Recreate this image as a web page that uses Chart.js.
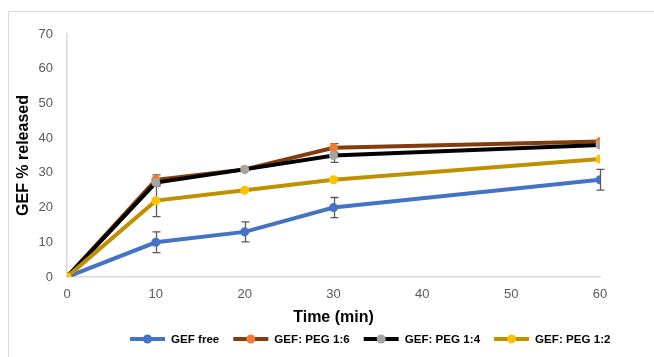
<!DOCTYPE html>
<html>
<head>
<meta charset="utf-8">
<script src="https://cdn.jsdelivr.net/npm/chart.js@4/dist/chart.umd.min.js"></script>
<style>
  html, body { margin: 0; padding: 0; background: #fff; }
  #wrap { width: 654px; height: 357px; }
</style>
</head>
<body>
<div id="wrap"><canvas id="releaseChart"></canvas></div>
<script>
// Release data (time in minutes, % released)
var times = [0, 10, 20, 30, 60];
var gefFree = [0, 10, 13, 20, 28];
var peg16 = [0, 28, 31, 37.2, 39];
var peg14 = [0, 27.2, 31, 35, 38];
var peg12 = [0, 22, 25, 28, 34];

// Standard deviations for the error bars
var gefFreeErr = [0, 3, 2.9, 2.9, 3];
var peg16Err = [0, 1.4, 0, 1.2, 0];
var peg14Err = [0, 1, 0, 2, 0];
var peg12Err = [0, 4.6, 0, 0, 0];

var seriesNames = ['GEF free', 'GEF: PEG 1:6', 'GEF: PEG 1:4', 'GEF: PEG 1:2'];
var lineColors = ['#4472C4', '#843C0C', '#000000', '#BF9000'];
var markerColors = ['#4472C4', '#ED7D31', '#A5A5A5', '#FFC000'];
var seriesValues = [gefFree, peg16, peg14, peg12];
var seriesErrors = [gefFreeErr, peg16Err, peg14Err, peg12Err];

function toPoints(values) {
    return values.map(function (v, i) { return { x: times[i], y: v }; });
}

var datasets = seriesValues.map(function (vals, i) {
    return {
        label: seriesNames[i],
        data: toPoints(vals),
        errors: seriesErrors[i],
        borderColor: lineColors[i],
        backgroundColor: markerColors[i],
        pointBackgroundColor: markerColors[i],
        pointBorderColor: markerColors[i],
        pointBorderWidth: 0,
        pointRadius: 4.5,
        borderWidth: 4,
        tension: 0,
        order: 4 - i
    };
});

// Light frame around the chart area
var framePlugin = {
    id: 'frame',
    beforeDraw: function (chart) {
        var c = chart.ctx;
        c.save();
        c.fillStyle = '#ffffff';
        c.fillRect(0, 0, chart.width, chart.height);
        c.strokeStyle = '#d9d9d9';
        c.lineWidth = 1;
        c.beginPath();
        c.moveTo(8.5, chart.height);
        c.lineTo(8.5, 11.5);
        c.lineTo(chart.width, 11.5);
        c.stroke();
        c.restore();
    }
};

// Vertical error bars with caps
var errorBarPlugin = {
    id: 'errorBars',
    beforeDatasetsDraw: function (chart) {
        var c = chart.ctx;
        var xs = chart.scales.x, ys = chart.scales.y;
        c.save();
        c.strokeStyle = '#595959';
        c.lineWidth = 1.3;
        chart.data.datasets.forEach(function (ds) {
            ds.data.forEach(function (p, j) {
                var e = ds.errors[j];
                if (!e) return;
                var px = Math.round(xs.getPixelForValue(p.x)) + 0.5;
                var top = ys.getPixelForValue(p.y + e);
                var bot = ys.getPixelForValue(p.y - e);
                c.beginPath();
                c.moveTo(px, top); c.lineTo(px, bot);
                c.moveTo(px - 4, top); c.lineTo(px + 4, top);
                c.moveTo(px - 4, bot); c.lineTo(px + 4, bot);
                c.stroke();
            });
        });
        c.restore();
    }
};

// Legend row: line with a marker, then the series name
var legendPlugin = {
    id: 'lineLegend',
    afterDraw: function (chart) {
        var c = chart.ctx;
        var y = 339;
        var x = 130;
        c.save();
        c.font = 'bold 11.6px "Liberation Sans", Arial, sans-serif';
        c.textBaseline = 'middle';
        chart.data.datasets.forEach(function (ds, i) {
            c.strokeStyle = lineColors[i];
            c.lineWidth = 4;
            c.beginPath();
            c.moveTo(x, y); c.lineTo(x + 35, y);
            c.stroke();
            c.fillStyle = markerColors[i];
            c.beginPath();
            c.arc(x + 17.5, y, 4.5, 0, Math.PI * 2);
            c.fill();
            c.fillStyle = '#000000';
            c.fillText(ds.label, x + 41, y + 1);
            x += 41 + c.measureText(ds.label).width + 14;
        });
        c.restore();
    }
};

var ctx = document.getElementById('releaseChart').getContext('2d');

var releaseChart = new Chart(ctx, {
    type: 'line',
    data: { datasets: datasets },
    plugins: [framePlugin, errorBarPlugin, legendPlugin],
    options: {
        responsive: true,
        maintainAspectRatio: false,
        animation: false,
        layout: { padding: { top: 34, right: 54, left: 0, bottom: 0 } },
        plugins: {
            legend: { display: false },
            tooltip: { enabled: false }
        },
        scales: {
            x: {
                type: 'linear',
                min: 0,
                max: 60,
                afterFit: function (scale) { scale.height = 80; },
                grid: { display: false, drawTicks: false },
                border: { display: true, color: '#d9d9d9', width: 1.5 },
                ticks: {
                    stepSize: 10,
                    padding: 10,
                    color: '#595959',
                    font: { family: '"Liberation Sans", Arial, sans-serif', size: 13 }
                },
                title: {
                    display: true,
                    text: 'Time (min)',
                    color: '#000000',
                    padding: { top: 0, bottom: 30 },
                    font: { family: '"Liberation Sans", Arial, sans-serif', size: 16, weight: 'bold' }
                }
            },
            y: {
                min: 0,
                max: 70,
                afterFit: function (scale) { scale.width = 67; },
                grid: { display: false, drawTicks: false },
                border: { display: true, color: '#d9d9d9', width: 1.5 },
                ticks: {
                    stepSize: 10,
                    padding: 14,
                    color: '#595959',
                    font: { family: '"Liberation Sans", Arial, sans-serif', size: 13 }
                },
                title: {
                    display: true,
                    text: 'GEF % released',
                    color: '#000000',
                    padding: { top: 14, bottom: 0 },
                    font: { family: '"Liberation Sans", Arial, sans-serif', size: 16, weight: 'bold' }
                }
            }
        }
    }
});
</script>
</body>
</html>
